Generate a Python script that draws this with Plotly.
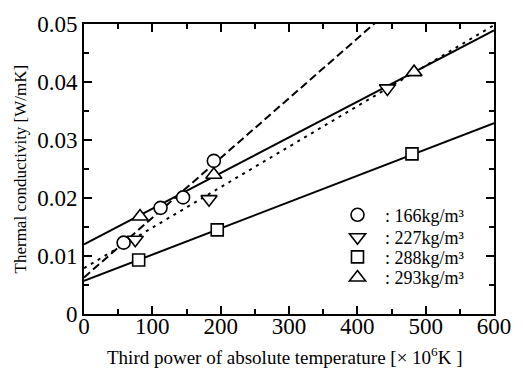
import plotly.graph_objects as go

# Measured points (x: third power of absolute temperature x10^6 K^3, y: W/mK)
circle_x = [58, 112, 145, 190]
circle_y = [0.0123, 0.0183, 0.0201, 0.0264]
down_x = [75, 183, 444]
down_y = [0.0128, 0.0198, 0.0389]
square_x = [80, 195, 480]
square_y = [0.0093, 0.0145, 0.0276]
up_x = [82, 190, 483]
up_y = [0.0168, 0.0240, 0.0417]

# Fitted lines (endpoints)
fit_x = [0, 600]
fit_166 = [0.0063, 0.0681]
fit_227 = [0.0079, 0.0498]
fit_288 = [0.0057, 0.0329]
fit_293 = [0.0120, 0.0489]

names = [": 166kg/m\u00b3", ": 227kg/m\u00b3", ": 288kg/m\u00b3", ": 293kg/m\u00b3"]

x_ticks = [0, 100, 200, 300, 400, 500, 600]
y_ticks = [0, 0.01, 0.02, 0.03, 0.04, 0.05]
y_ticktext = ["0", "0.01", "0.02", "0.03", "0.04", "0.05"]

FONT = "Liberation Serif, Times New Roman, serif"
fig = go.Figure()

line_style = dict(color="black", width=2)
fig.add_trace(go.Scatter(x=fit_x, y=fit_166, mode="lines", showlegend=False,
                         line=dict(color="black", width=2, dash="8px,4px")))
fig.add_trace(go.Scatter(x=fit_x, y=fit_227, mode="lines", showlegend=False,
                         line=dict(color="black", width=2, dash="3px,5px")))
fig.add_trace(go.Scatter(x=fit_x, y=fit_288, mode="lines", showlegend=False, line=line_style))
fig.add_trace(go.Scatter(x=fit_x, y=fit_293, mode="lines", showlegend=False, line=line_style))

series = [
    (circle_x, circle_y, "circle", 13, names[0], "legend"),
    (down_x, down_y, "triangle-down", 14, names[1], "legend2"),
    (square_x, square_y, "square", 12, names[2], "legend3"),
    (up_x, up_y, "triangle-up", 14, names[3], "legend4"),
]
for xs, ys, sym, sz, nm, lg in series:
    fig.add_trace(go.Scatter(x=xs, y=ys, mode="markers", name=nm, showlegend=True, legend=lg,
                             marker=dict(symbol=sym, size=sz, color="white",
                                         line=dict(color="black", width=1.6))))

tickfont = dict(family=FONT, size=23, color="black")
axis_common = dict(showgrid=False, zeroline=False, showline=True, linecolor="black",
                   linewidth=2, mirror="allticks", ticks="inside", ticklen=8,
                   tickwidth=1.5, tickcolor="black")

def legend_at(ypaper):
    return dict(x=0.60, y=ypaper, xanchor="left", yanchor="middle",
                font=dict(family=FONT, size=18, color="black"),
                bgcolor="rgba(0,0,0,0)", itemwidth=45)

fig.update_layout(
    width=523, height=374,
    margin=dict(l=84, r=21, t=18, b=60),
    plot_bgcolor="white", paper_bgcolor="white",
    font=dict(family=FONT, color="black"),
    xaxis=dict(range=[0, 600], tickvals=x_ticks, tickfont=tickfont, ticklabelstandoff=-10,
               minor=dict(dtick=50, tick0=0, ticks="inside", ticklen=5, tickwidth=1.5, tickcolor="black"),
               **axis_common),
    yaxis=dict(range=[0, 0.05], tickvals=y_ticks, ticktext=y_ticktext, tickfont=tickfont,
               minor=dict(dtick=0.005, tick0=0, ticks="inside", ticklen=5, tickwidth=1.5, tickcolor="black"),
               **axis_common),
    legend=legend_at(0.341),
    legend2=legend_at(0.2635),
    legend3=legend_at(0.196),
    legend4=legend_at(0.125),
    annotations=[
        dict(text="Thermal conductivity [W/mK]", xref="paper", yref="paper",
             x=-0.155, y=0.5, xanchor="center", yanchor="middle", textangle=-90,
             showarrow=False, font=dict(family=FONT, size=17, color="black")),
        dict(text="Third power of absolute temperature [\u00d7 10<sup>6</sup>K ]", xref="paper", yref="paper",
             x=0.49, y=-0.145, xanchor="center", yanchor="middle",
             showarrow=False, font=dict(family=FONT, size=19, color="black")),
    ],
)

fig.write_html("out.html")
